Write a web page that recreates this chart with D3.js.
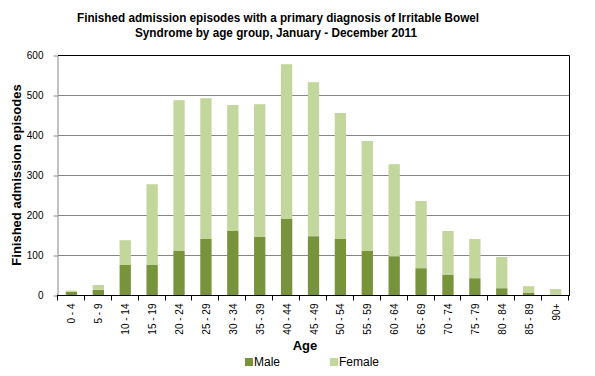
<html>
<head>
<style>
  body { margin: 0; background: #fff; }
  text { font-family: "Liberation Sans", Arial, sans-serif; }
</style>
</head>
<body>
<svg id="chart" width="595" height="376"></svg>
<script src="https://cdn.jsdelivr.net/npm/d3@7"></script>
<script>
// age groups and counts
const ageGroups = ["0 - 4","5 - 9","10 - 14","15 - 19","20 - 24","25 - 29","30 - 34","35 - 39","40 - 44","45 - 49","50 - 54","55 - 59","60 - 64","65 - 69","70 - 74","75 - 79","80 - 84","85 - 89","90+"];
const male   = [8, 13, 75, 75, 110, 140, 160, 145, 190, 147, 140, 110, 97, 67, 50, 42, 17, 5, 0];
const female = [3, 12, 62, 202, 377, 352, 315, 332, 387, 385, 315, 275, 230, 168, 110, 98, 78, 17, 15];
const yTicks = [0, 100, 200, 300, 400, 500, 600];

const svg = d3.select("#chart")
const plotLeft = 58, plotRight = 569, plotTop = 55, plotBottom = 295

let x = d3.scaleBand().domain(ageGroups).range([plotLeft, plotRight])
    .paddingInner(0.58).paddingOuter(0.29)
let y = d3.scaleLinear().domain([0, 600]).range([plotBottom, plotTop])

let data = ageGroups.map((g, i) => ({group: g, male: male[i], female: female[i]}))

// gridlines
svg.append("g").selectAll("line")
    .data(yTicks.filter(t => t > 0 && t < 600))
    .enter().append("line")
    .attr("x1", plotLeft).attr("x2", plotRight)
    .attr("y1", d => y(d) + 0.5).attr("y2", d => y(d) + 0.5)
    .style("stroke", "#868686").style("stroke-width", 1)

// bars - male first then female stacked on top
let bars = svg.append("g")
bars.selectAll("rect.male").data(data).enter().append("rect")
    .attr("class", "male")
    .attr("x", d => x(d.group)).attr("width", x.bandwidth())
    .attr("y", d => y(d.male)).attr("height", d => y(0) - y(d.male))
    .style("fill", "#77933C")
bars.selectAll("rect.female").data(data).enter().append("rect")
    .attr("class", "female")
    .attr("x", d => x(d.group)).attr("width", x.bandwidth())
    .attr("y", d => y(d.male + d.female)).attr("height", d => y(d.male) - y(d.male + d.female))
    .style("fill", "#C3D69B")

// plot border top + right (black)
svg.append("path")
    .attr("d", `M${plotLeft},${plotTop + 0.5}H${plotRight + 0.5}V${plotBottom}`)
    .style("fill", "none").style("stroke", "#000")

// y axis (grey)
let yAxis = d3.axisLeft(y).tickValues(yTicks).tickSizeInner(4).tickSizeOuter(0).tickPadding(10)
let yg = svg.append("g").attr("transform", `translate(${plotLeft - 0.5},0.5)`).call(yAxis)
yg.selectAll("path, line").style("stroke", "#868686")
yg.selectAll("text").style("font-size", "10px").style("fill", "#000")
    .style("font-family", "'Liberation Sans', Arial, sans-serif")

// x axis (black) with ticks between categories
let xg = svg.append("g").attr("transform", `translate(0,${plotBottom + 0.5})`)
xg.append("line").attr("x1", plotLeft - 1).attr("x2", plotRight + 1).style("stroke", "#000")
xg.selectAll("line.tick").data(d3.range(ageGroups.length + 1)).enter().append("line")
    .attr("class", "tick")
    .attr("x1", i => Math.round(plotLeft + i * x.step()) - 0.5)
    .attr("x2", i => Math.round(plotLeft + i * x.step()) - 0.5)
    .attr("y1", 0).attr("y2", 5)
    .style("stroke", "#000")
xg.selectAll("text").data(ageGroups).enter().append("text")
    .attr("transform", d => `translate(${x(d) + x.bandwidth() / 2 + 4},8) rotate(-90)`)
    .attr("text-anchor", "end")
    .style("font-size", "10px")
    .text(d => d)

// titles
svg.append("text").attr("x", 278).attr("y", 22).attr("text-anchor", "middle")
    .attr("textLength", 402).attr("lengthAdjust", "spacingAndGlyphs")
    .style("font-size", "12px").style("font-weight", "bold")
    .text("Finished admission episodes with a primary diagnosis of Irritable Bowel")
svg.append("text").attr("x", 276).attr("y", 37).attr("text-anchor", "middle")
    .attr("textLength", 282).attr("lengthAdjust", "spacingAndGlyphs")
    .style("font-size", "12px").style("font-weight", "bold")
    .text("Syndrome by age group, January - December 2011")

svg.append("text").attr("transform", "translate(21,175) rotate(-90)")
    .attr("text-anchor", "middle")
    .style("font-size", "13px").style("font-weight", "bold")
    .text("Finished admission episodes")

svg.append("text").attr("x", 305).attr("y", 350).attr("text-anchor", "middle")
    .style("font-size", "13px").style("font-weight", "bold")
    .text("Age")

// legend
let legend = svg.append("g")
let items = [{name: "Male", color: "#77933C", x: 245}, {name: "Female", color: "#C3D69B", x: 330}]
legend.selectAll("rect").data(items).enter().append("rect")
    .attr("x", d => d.x).attr("y", 358).attr("width", 8).attr("height", 8)
    .style("fill", d => d.color)
legend.selectAll("text").data(items).enter().append("text")
    .attr("x", d => d.x + 9).attr("y", 366)
    .style("font-size", "12px")
    .text(d => d.name)
</script>
</body>
</html>
